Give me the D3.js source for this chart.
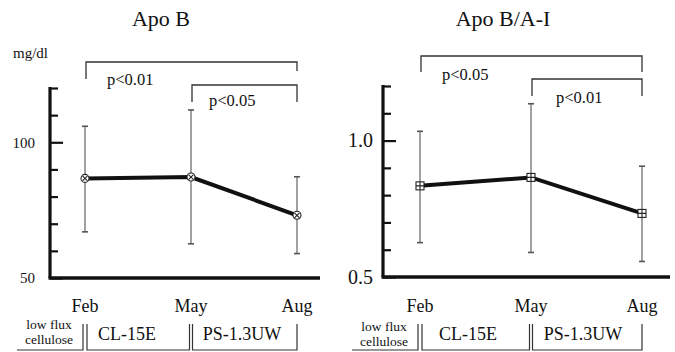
<!DOCTYPE html>
<html>
<head>
<meta charset="utf-8">
<script src="https://cdn.jsdelivr.net/npm/d3@7"></script>
<style>
  body { margin: 0; background: #fff; }
  svg { display: block; }
  text { font-family: "Liberation Serif", "DejaVu Serif", serif; fill: #111; }
</style>
</head>
<body>
<svg id="chart" width="675" height="352"></svg>
<script>
// data
const months = ["Feb", "May", "Aug"];
const membranes = ["CL-15E", "PS-1.3UW"];

const apoBMean = [86.7, 87.2, 73.1];
const apoBHigh = [105.9, 111.9, 87.3];
const apoBLow = [67.0, 62.6, 59.0];
const apoBTicks = [50, 60, 70, 80, 90, 100, 110, 120];
const apoBLabels = [50, 100];
const apoBSig = ["p<0.01", "p<0.05"];

const ratioMean = [0.834, 0.865, 0.733];
const ratioHigh = [1.034, 1.135, 0.906];
const ratioLow = [0.626, 0.590, 0.557];
const ratioTicks = [0.5, 0.6, 0.7, 0.8, 0.9, 1.0, 1.1, 1.2];
const ratioLabels = [0.5, 1.0];
const ratioSig = ["p<0.05", "p<0.01"];

const svg = d3.select("#chart");

function panel(cfg) {
    const g = svg.append("g");

    const x = d3.scalePoint().domain(months).range([cfg.x0, cfg.x1]);
    const y = d3.scaleLinear().domain(cfg.domain).range([cfg.yBottom, cfg.yTop]);

    // title
    g.append("text")
        .attr("x", cfg.titleX).attr("y", 26)
        .attr("text-anchor", "middle")
        .style("font-size", "22px")
        .text(cfg.title);

    if (cfg.unit) {
        g.append("text").attr("x", 13).attr("y", 58)
            .style("font-size", "15px").text(cfg.unit);
    }

    // y axis, ticks pointing inward
    const yAxis = d3.axisLeft(y)
        .tickValues(cfg.ticks)
        .tickSize(-8)
        .tickPadding(cfg.pad)
        .tickFormat(d => cfg.labels.includes(d) ? cfg.fmt(d) : "");

    const ya = g.append("g")
        .attr("transform", `translate(${cfg.axisX},0)`)
        .call(yAxis);
    ya.select(".domain").remove();
    ya.selectAll(".tick line")
        .attr("stroke", "#111").attr("stroke-width", 2.2)
        .attr("x2", d => cfg.labels.includes(d) ? 13 : 8);
    ya.selectAll(".tick text")
        .style("font-family", "Liberation Serif")
        .style("font-size", cfg.labelSize + "px")
        .attr("fill", "#111");

    g.append("line")
        .attr("x1", cfg.axisX).attr("x2", cfg.axisX)
        .attr("y1", y(cfg.domain[1]) - 1).attr("y2", cfg.yBottom)
        .attr("stroke", "#111").attr("stroke-width", 3.2);
    g.append("line")
        .attr("x1", cfg.axisX - 1.5).attr("x2", cfg.xEnd)
        .attr("y1", cfg.yBottom).attr("y2", cfg.yBottom)
        .attr("stroke", "#111").attr("stroke-width", 3.5);

    // error bars
    const eb = g.append("g").attr("stroke", "#555").attr("stroke-width", 1.1);
    months.forEach((m, i) => {
        eb.append("line")
            .attr("x1", x(m)).attr("x2", x(m))
            .attr("y1", y(cfg.high[i])).attr("y2", y(cfg.low[i]));
        [cfg.high[i], cfg.low[i]].forEach(v => {
            eb.append("line")
                .attr("x1", x(m) - 3).attr("x2", x(m) + 3)
                .attr("y1", y(v)).attr("y2", y(v))
                .attr("stroke-width", 1.6);
        });
    });

    // mean line
    const line = d3.line().x((d, i) => x(months[i])).y(d => y(d));
    g.append("path")
        .datum(cfg.mean)
        .attr("d", line)
        .attr("fill", "none")
        .attr("stroke", "#111")
        .attr("stroke-width", 4);

    // markers
    const mk = g.append("g").attr("stroke", "#222").attr("stroke-width", 1.1);
    months.forEach((m, i) => {
        const cx = x(m), cy = y(cfg.mean[i]);
        if (cfg.marker === "circle") {
            mk.append("circle").attr("cx", cx).attr("cy", cy).attr("r", 4).attr("fill", "#fff");
            mk.append("path")
                .attr("d", `M${cx - 2.5},${cy - 2.5}L${cx + 2.5},${cy + 2.5}M${cx - 2.5},${cy + 2.5}L${cx + 2.5},${cy - 2.5}`);
        } else {
            mk.append("rect").attr("x", cx - 4).attr("y", cy - 4)
                .attr("width", 8).attr("height", 8).attr("fill", "#fff");
            mk.append("path")
                .attr("d", `M${cx - 4},${cy}L${cx + 4},${cy}M${cx},${cy - 4}L${cx},${cy + 4}`);
        }
    });

    // significance brackets
    const br = g.append("g").attr("stroke", "#333").attr("stroke-width", 1.3).attr("fill", "none");
    cfg.brackets.forEach((b, k) => {
        const xa = x(months[b.from]) + 1, xb = x(months[b.to]);
        br.append("path")
            .attr("d", `M${xa},${b.y + b.dropL}V${b.y}H${xb}V${b.y + b.dropR}`);
        g.append("text")
            .attr("x", b.tx).attr("y", b.ty)
            .style("font-size", "16.5px")
            .text(cfg.sig[k]);
    });

    // month labels
    g.selectAll(".month")
        .data(months)
        .enter()
        .append("text")
        .attr("class", "month")
        .attr("x", d => x(d))
        .attr("y", 312)
        .attr("text-anchor", "middle")
        .style("font-size", "18px")
        .text(d => d);

    // membrane periods
    const fx = x(months[0]), mx = x(months[1]), ax = x(months[2]);
    const lb = g.append("g").attr("stroke", "#333").attr("stroke-width", 1.2).attr("fill", "none");
    lb.append("path").attr("d", `M${fx - 68},350H${fx - 2}V324`);
    lb.append("path").attr("d", `M${fx + 2},324V350H${mx - 1.5}V324`);
    lb.append("path").attr("d", `M${mx + 1.5},324V350H${ax}V324`);

    g.append("text").attr("x", fx - 36).attr("y", cfg.lowY)
        .attr("text-anchor", "middle").style("font-size", "13.5px").text("low flux");
    g.append("text").attr("x", fx - 36).attr("y", cfg.lowY + 15)
        .attr("text-anchor", "middle").style("font-size", "13.5px").text("cellulose");
    g.append("text").attr("x", fx + cfg.clOff).attr("y", 340)
        .attr("text-anchor", "middle").style("font-size", "18px").text(membranes[0]);
    g.append("text").attr("x", mx + cfg.psOff).attr("y", 340)
        .attr("text-anchor", "middle").style("font-size", "18px").text(membranes[1]);
}

panel({
    title: "Apo B", titleX: 161, unit: "mg/dl",
    x0: 85, x1: 297, axisX: 50, xEnd: 320,
    yBottom: 278, yTop: 88, domain: [50, 120],
    ticks: apoBTicks, labels: apoBLabels, fmt: d3.format("d"),
    pad: 15, labelSize: 15,
    mean: apoBMean, high: apoBHigh, low: apoBLow,
    marker: "circle", sig: apoBSig,
    brackets: [
        { from: 0, to: 2, y: 62, dropL: 17, dropR: 9, tx: 107, ty: 85 },
        { from: 1, to: 2, y: 85, dropL: 17, dropR: 17, tx: 209, ty: 106 }
    ],
    lowY: 329, clOff: 42, psOff: 51
});

panel({
    title: "Apo B/A-I", titleX: 503, unit: null,
    x0: 420, x1: 642, axisX: 383, xEnd: 670,
    yBottom: 277, yTop: 86, domain: [0.5, 1.2],
    ticks: ratioTicks, labels: ratioLabels, fmt: d3.format(".1f"),
    pad: 10, labelSize: 20,
    mean: ratioMean, high: ratioHigh, low: ratioLow,
    marker: "square", sig: ratioSig,
    brackets: [
        { from: 0, to: 2, y: 56, dropL: 16, dropR: 16, tx: 442, ty: 80 },
        { from: 1, to: 2, y: 79, dropL: 17, dropR: 17, tx: 556, ty: 103 }
    ],
    lowY: 331, clOff: 48, psOff: 52
});
</script>
</body>
</html>
